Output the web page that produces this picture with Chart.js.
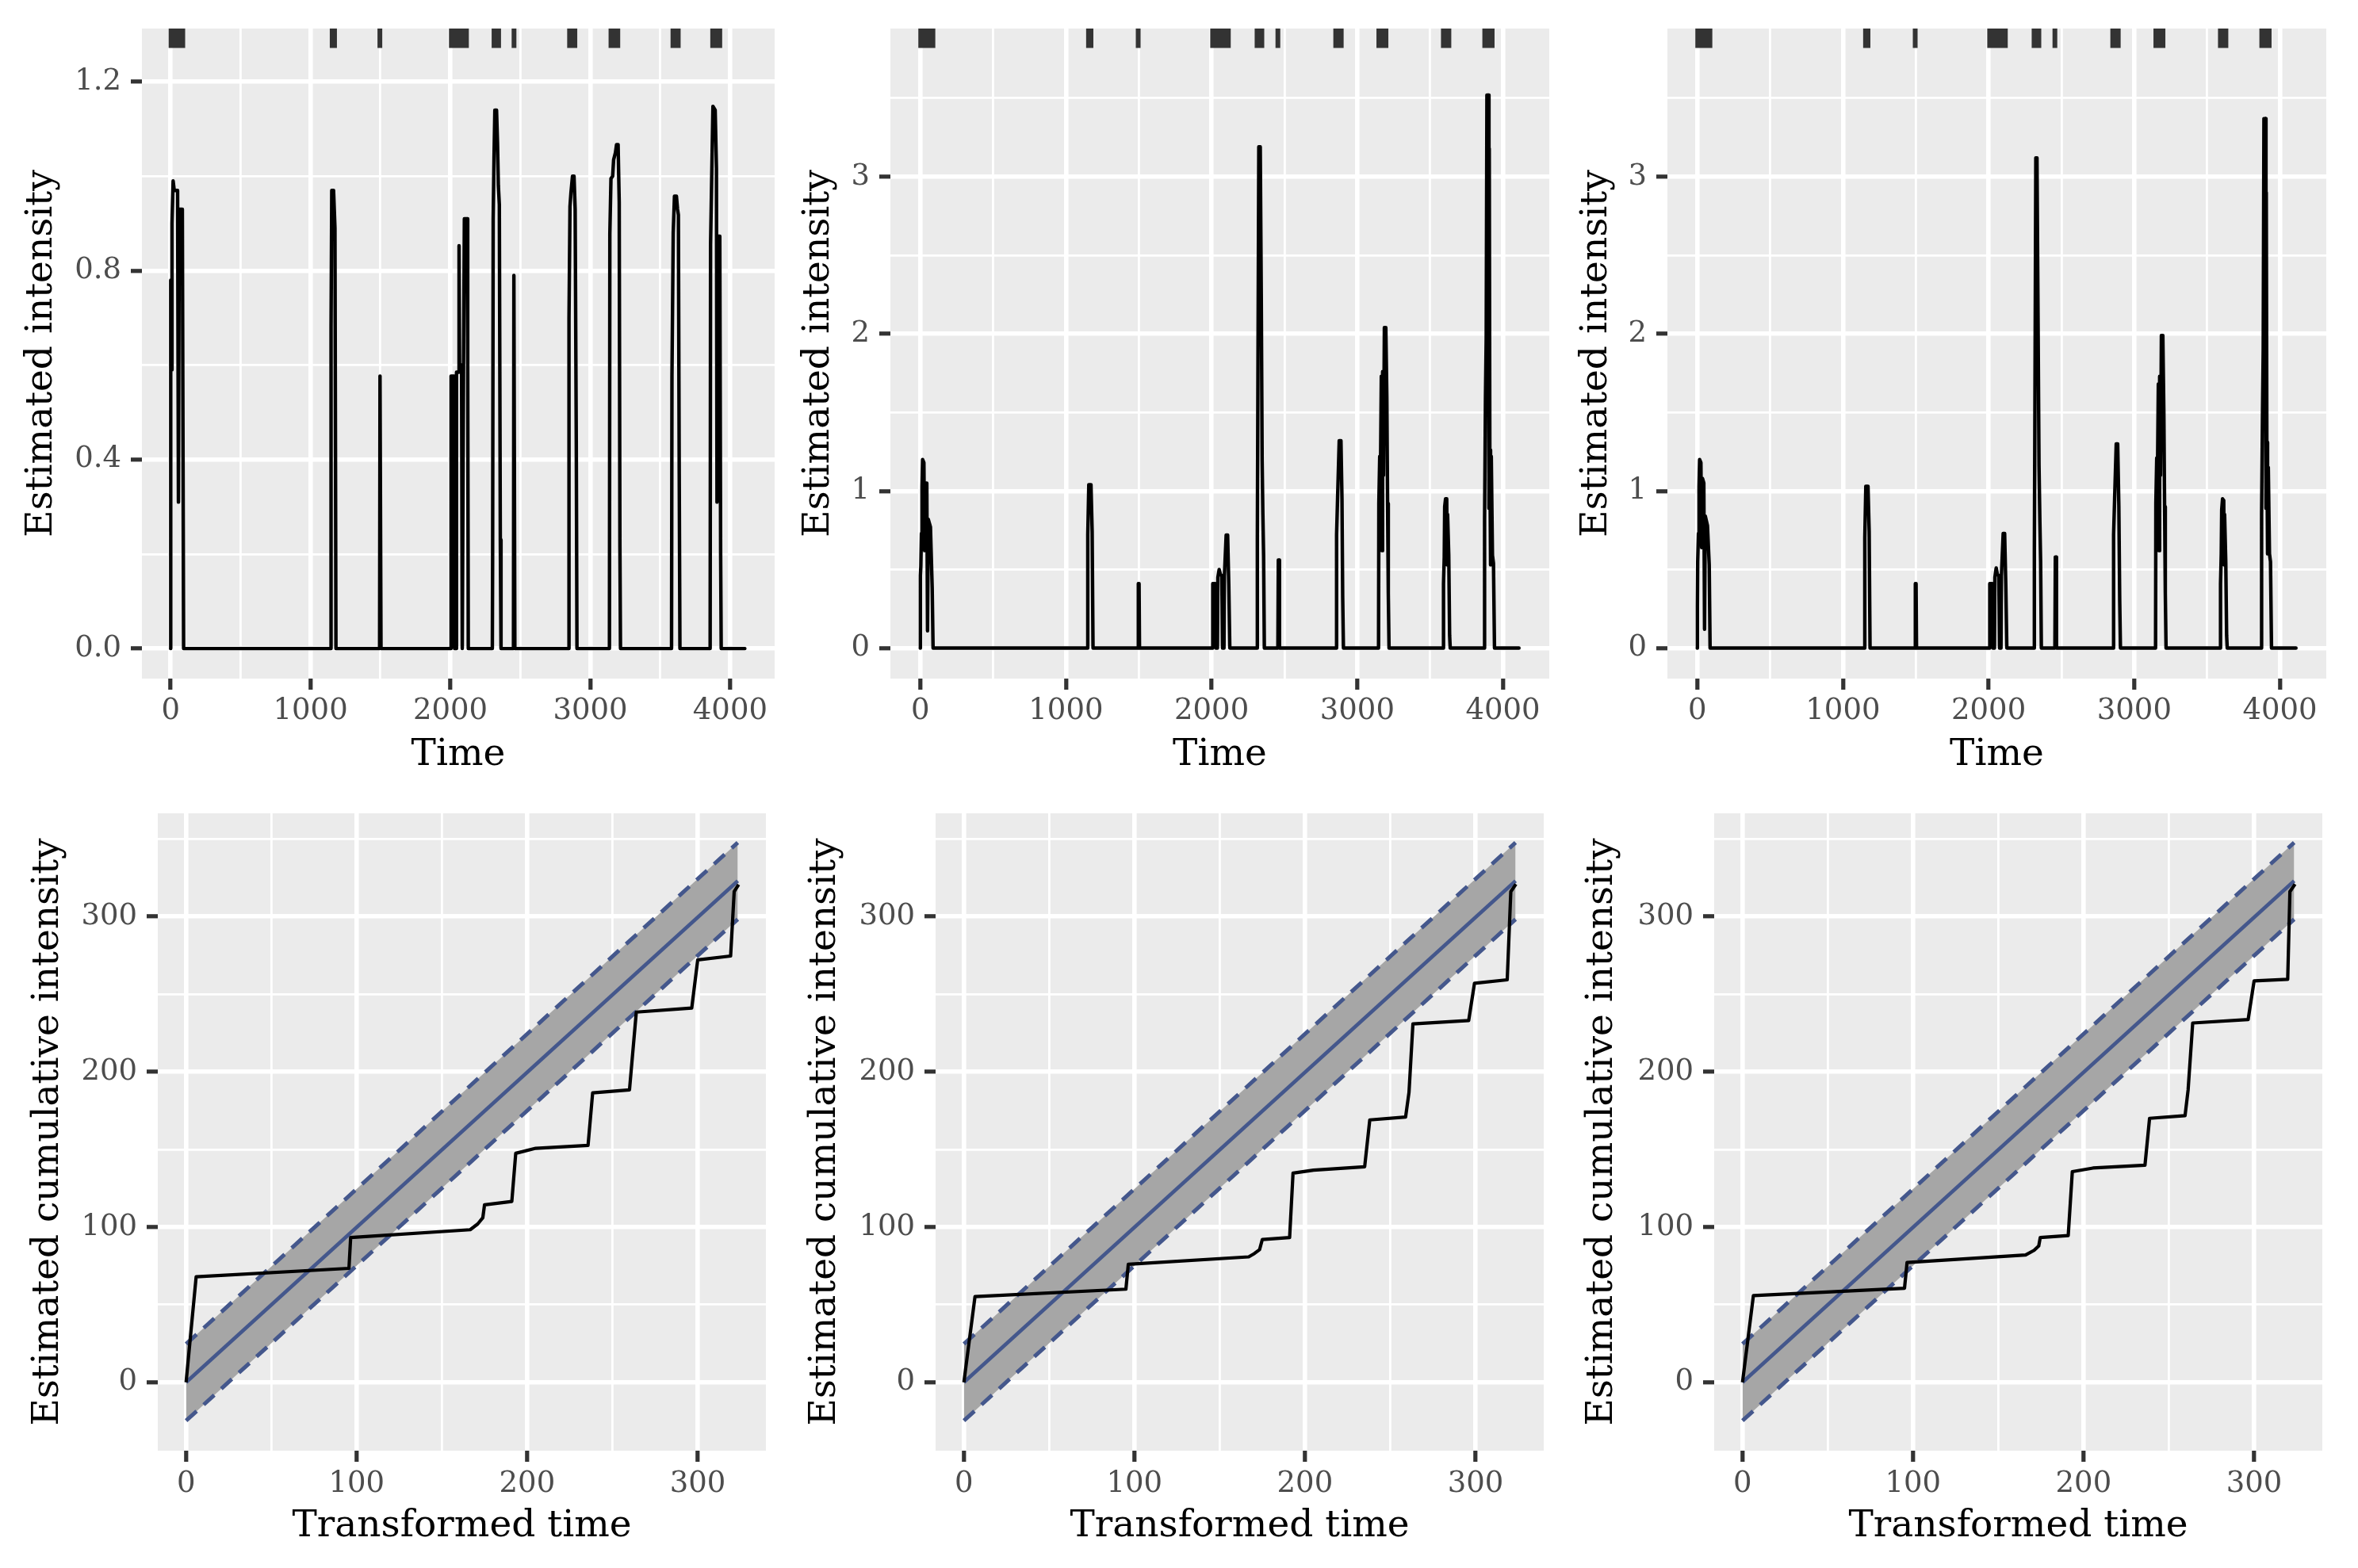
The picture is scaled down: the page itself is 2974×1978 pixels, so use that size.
<!DOCTYPE html>
<html>
<head>
<meta charset="utf-8">
<script src="https://cdn.jsdelivr.net/npm/chart.js@4.4.1/dist/chart.umd.min.js"></script>
<style>
html, body { margin: 0; padding: 0; background: #ffffff; }
#page { position: relative; width: 2974px; height: 1978px; overflow: hidden; background: #ffffff; }
#page canvas { position: absolute; }
</style>
</head>
<body>
<div id="page"></div>
<script>
// ---------------- DATA ----------------
// Event times (rug marks at the top of the intensity panels)
const rugTimes = [3, 12, 22, 32, 42, 52, 62, 72, 80, 87,
  1155, 1163, 1172, 1496,
  2007, 2020, 2035, 2050, 2062, 2075, 2090, 2103, 2115,
  2312, 2322, 2334, 2345, 2455,
  2852, 2865, 2878, 2890,
  3148, 3160, 3172, 3185, 3197,
  3591, 3603, 3616, 3629,
  3875, 3888, 3900, 3913, 3926];

// Estimated intensity, [time, value]
const intensityPanel1 = [[0,0],[1,0.78],[6,0.59],[10,0.90],[18,0.99],[26,0.97],[50,0.97],[56,0.31],[62,0.93],[84,0.93],[89,0.40],[93,0],
  [1145,0],[1147,0.68],[1152,0.97],[1165,0.97],[1175,0.89],[1182,0],
  [1494,0],[1497,0.577],[1501,0.577],[1504,0],
  [2003,0],[2005,0.577],[2026,0.577],[2030,0],[2040,0],[2044,0.585],[2058,0.585],[2062,0.853],[2066,0.59],[2080,0.60],[2085,0],[2090,0],[2094,0.60],[2100,0.91],[2120,0.91],[2124,0.60],[2128,0],
  [2300,0],[2302,0.19],[2306,0.91],[2312,1.04],[2318,1.14],[2330,1.14],[2337,1.07],[2343,0.98],[2350,0.94],[2357,0.23],[2362,0],
  [2451,0],[2454,0.79],[2458,0.79],[2461,0],
  [2846,0],[2848,0.70],[2855,0.936],[2862,0.965],[2873,1.00],[2884,1.00],[2892,0.93],[2900,0.44],[2905,0],
  [3137,0],[3140,0.877],[3148,0.995],[3160,1.00],[3167,1.035],[3180,1.05],[3188,1.067],[3199,1.067],[3207,0.945],[3212,0.215],[3216,0],
  [3581,0],[3584,0.576],[3593,0.88],[3602,0.958],[3616,0.958],[3624,0.93],[3630,0.918],[3636,0.37],[3641,0],
  [3857,0],[3860,0.855],[3868,0.995],[3877,1.148],[3893,1.14],[3902,1.017],[3906,0.31],[3911,0.873],[3926,0.873],[3932,0.20],[3936,0],
  [4105,0]];

const intensityPanel2 = [[0,0],[1,0.46],[4,0.52],[8,0.73],[12,1.03],[16,1.20],[25,1.18],[30,0.62],[36,1.05],[45,1.05],[50,0.11],[55,0.82],[70,0.77],[82,0.38],[88,0],
  [1147,0],[1150,0.72],[1157,1.04],[1172,1.04],[1180,0.74],[1186,0],
  [1494,0],[1497,0.41],[1502,0.41],[1505,0],
  [2005,0],[2008,0.41],[2025,0.41],[2030,0],[2040,0],[2043,0.45],[2052,0.50],[2060,0.47],[2070,0.46],[2075,0],[2085,0],[2088,0.46],[2100,0.72],[2110,0.72],[2118,0.40],[2125,0],
  [2312,0],[2314,0.70],[2318,1.73],[2324,3.19],[2334,3.19],[2341,2.24],[2347,1.19],[2352,0.85],[2357,0.59],[2362,0],
  [2455,0],[2458,0.56],[2463,0.56],[2466,0],
  [2856,0],[2858,0.72],[2865,0.96],[2876,1.32],[2888,1.32],[2895,0.95],[2900,0.32],[2905,0],
  [3146,0],[3148,0.92],[3154,1.22],[3160,1.20],[3165,1.73],[3170,0.62],[3174,1.76],[3180,1.10],[3186,2.04],[3196,2.04],[3203,1.60],[3208,0.92],[3213,0.35],[3218,0],
  [3590,0],[3592,0.41],[3597,0.58],[3600,0.90],[3606,0.95],[3614,0.95],[3617,0.53],[3620,0.85],[3628,0.59],[3634,0.08],[3638,0],
  [3872,0],[3874,0.82],[3880,1.60],[3885,1.97],[3890,3.52],[3900,3.52],[3904,0.89],[3906,3.18],[3910,1.26],[3915,0.53],[3920,1.22],[3928,0.59],[3935,0.54],[3942,0],
  [4110,0]];

const intensityPanel3 = [[0,0],[1,0.26],[3,0.55],[8,0.73],[12,1.03],[16,1.20],[25,1.18],[30,0.64],[36,1.08],[45,1.05],[50,0.12],[55,0.84],[70,0.78],[82,0.53],[88,0],
  [1147,0],[1150,0.70],[1157,1.03],[1172,1.03],[1180,0.74],[1186,0],
  [1494,0],[1497,0.41],[1502,0.41],[1505,0],
  [2005,0],[2008,0.41],[2025,0.41],[2030,0],[2040,0],[2043,0.45],[2052,0.51],[2060,0.47],[2070,0.46],[2075,0],[2085,0],[2088,0.46],[2100,0.73],[2110,0.73],[2118,0.40],[2125,0],
  [2312,0],[2314,0.62],[2318,1.58],[2324,3.12],[2332,3.12],[2340,2.00],[2346,1.16],[2352,0.80],[2357,0.55],[2362,0],
  [2455,0],[2458,0.58],[2463,0.58],[2466,0],
  [2856,0],[2858,0.72],[2865,0.95],[2876,1.30],[2886,1.30],[2894,0.90],[2900,0.30],[2905,0],
  [3146,0],[3148,0.92],[3154,1.21],[3160,1.20],[3165,1.68],[3170,0.62],[3174,1.73],[3180,1.10],[3186,1.99],[3196,1.99],[3203,1.50],[3208,0.90],[3213,0.35],[3218,0],
  [3590,0],[3592,0.41],[3597,0.60],[3600,0.88],[3606,0.95],[3614,0.94],[3617,0.53],[3620,0.85],[3628,0.55],[3634,0.08],[3638,0],
  [3872,0],[3874,0.85],[3880,1.48],[3885,1.90],[3890,3.37],[3900,3.37],[3904,0.89],[3906,2.90],[3910,1.31],[3915,0.60],[3920,1.15],[3928,0.60],[3935,0.55],[3942,0],
  [4110,0]];

// Estimated cumulative intensity vs transformed time, [x, y]
const cumulativePanel4 = [[0,0],[5.9,68],[95.5,73.4],[96.5,93.2],[166.6,98.3],[171,102],[174,106],[175,114.3],[191,116.5],[193.3,147.5],[205,150.7],[235.7,152.6],[238.4,186.4],[260,188.3],[264,238.4],[296.5,241],[300,272],[319.3,274.5],[321.4,316],[324,320.5]];
const cumulativePanel5 = [[0,0],[6.5,55.2],[95,60],[96.4,76],[167,80.8],[170.4,83],[173.4,85.5],[175,92],[191,93.2],[193,134.7],[205,136.6],[235,138.8],[238,169],[259,170.8],[261,186.7],[263.3,230.8],[296,233],[299.4,257],[318.6,259.2],[320.7,316],[323.7,320.8]];
const cumulativePanel6 = [[0,0],[6.4,55.9],[95,60.6],[96.5,77.2],[166,82],[171,85],[173.7,87.8],[174.6,93.2],[191,94.5],[193.4,135.7],[205.5,138],[236,139.8],[238.7,170],[259.5,171.7],[261.3,188.3],[264,231.4],[296.5,233.6],[300,258.5],[319.7,259.5],[321,316],[324,320.8]];

// Reference line and confidence band
const bandX = [0, 323.5];
const bandMid = [0, 322.9];
const bandLow = [-24.7, 298.2];
const bandHigh = [24.7, 347.6];

// Ticks
const timeMajor = [0, 1000, 2000, 3000, 4000];
const timeMinor = [500, 1500, 2500, 3500];
const timeLabels = ['0', '1000', '2000', '3000', '4000'];
const int1Major = [0, 0.4, 0.8, 1.2];
const int1Minor = [0.2, 0.6, 1.0];
const int1Labels = ['0.0', '0.4', '0.8', '1.2'];
const int23Major = [0, 1, 2, 3];
const int23Minor = [0.5, 1.5, 2.5, 3.5];
const int23Labels = ['0', '1', '2', '3'];
const transMajor = [0, 100, 200, 300];
const transMinor = [50, 150, 250];
const transLabels = ['0', '100', '200', '300'];
const cumMajor = [0, 100, 200, 300];
const cumMinor = [50, 150, 250, 350];
const cumLabels = ['0', '100', '200', '300'];

// ---------------- STYLE / LAYOUT ----------------
const FONT = "'DejaVu Serif', serif";
const BLUE = '#44578C';
const COLS = [[0, 991], [991, 1983], [1983, 2974]];
const ROWS = [[0, 989], [989, 1978]];

const panelBackground = {
  id: 'panelBackground',
  beforeDraw(chart) {
    const a = chart.chartArea, ctx = chart.ctx;
    ctx.save();
    ctx.fillStyle = '#EBEBEB';
    ctx.fillRect(a.left, a.top, a.right - a.left, a.bottom - a.top);
    ctx.restore();
  }
};

const pts = arr => arr.map(p => ({ x: p[0], y: p[1] }));
const zipPts = (xs, ys) => xs.map((x, i) => ({ x: x, y: ys[i] }));

function rugPoints(ymin, ymax) {
  const y0 = ymax - 0.03 * (ymax - ymin);
  const out = [];
  rugTimes.forEach(t => { out.push({ x: t, y: ymax }, { x: t, y: y0 }, { x: t, y: null }); });
  return out;
}

function axisOptions(o) {
  const majorSet = new Set(o.major);
  const labelMap = new Map(o.major.map((v, i) => [v, o.labels[i]]));
  const all = o.major.concat(o.minor).sort((a, b) => a - b);
  const isX = o.pos === 'bottom';
  const isMajor = c => c.tick && majorSet.has(c.tick.value);
  return {
    type: 'linear', position: o.pos, min: o.min, max: o.max, bounds: 'data',
    afterBuildTicks: s => { s.ticks = all.map(v => ({ value: v })); },
    afterFit: s => { if (isX) s.height = o.size; else s.width = o.size; },
    grid: {
      color: '#FFFFFF',
      lineWidth: c => isMajor(c) ? 5.6 : 2.8,
      drawTicks: true,
      tickLength: 14,
      tickWidth: 5.2,
      tickColor: c => isMajor(c) ? '#333333' : 'rgba(0,0,0,0)'
    },
    border: { display: false },
    ticks: {
      autoSkip: false, maxRotation: 0, minRotation: 0,
      padding: o.tickPad,
      color: '#4D4D4D',
      font: { family: FONT, size: 37, lineHeight: 1.2 },
      callback: v => labelMap.has(v) ? labelMap.get(v) : ''
    },
    title: {
      display: true, text: o.title, color: '#000000',
      font: { family: FONT, size: 47, lineHeight: 1.2 },
      padding: isX ? { top: 0, bottom: o.titlePad } : { top: o.titlePad, bottom: 0 }
    }
  };
}

function makePanel(p) {
  const [cx0, cx1] = COLS[p.col];
  const [cy0, cy1] = ROWS[p.row];
  const w = cx1 - cx0, h = cy1 - cy0;
  const canvas = document.createElement('canvas');
  canvas.width = w; canvas.height = h;
  canvas.style.left = cx0 + 'px'; canvas.style.top = cy0 + 'px';
  canvas.style.width = w + 'px'; canvas.style.height = h + 'px';
  document.getElementById('page').appendChild(canvas);
  const x = Object.assign({}, p.x, { pos: 'bottom', size: cy1 - p.B });
  const y = Object.assign({ tickPad: 12 }, p.y, { pos: 'left', size: p.L - cx0 });
  new Chart(canvas, {
    type: 'line',
    data: { datasets: p.datasets },
    options: {
      responsive: false, animation: false,
      layout: { padding: { left: 0, top: p.T - cy0, right: cx1 - p.R, bottom: 0 } },
      plugins: {
        legend: { display: false }, tooltip: { enabled: false },
        filler: { propagate: false, drawTime: 'beforeDatasetsDraw' }
      },
      elements: { point: { radius: 0 }, line: { tension: 0 } },
      scales: { x: axisOptions(x), y: axisOptions(y) }
    },
    plugins: [panelBackground]
  });
}

// ---------------- TOP ROW ----------------
const TX_MIN = -205, TX_MAX = 4318;
const topPanels = [
  { col: 0, L: 179, R: 977, data: intensityPanel1, ymin: -0.0636, ymax: 1.3127, major: int1Major, minor: int1Minor, labels: int1Labels, yPad: 24.8 },
  { col: 1, L: 1123, R: 1954, data: intensityPanel2, ymin: -0.194, ymax: 3.943, major: int23Major, minor: int23Minor, labels: int23Labels, yPad: 13.8 },
  { col: 2, L: 2103, R: 2934, data: intensityPanel3, ymin: -0.194, ymax: 3.943, major: int23Major, minor: int23Minor, labels: int23Labels, yPad: 2.3 }
];
topPanels.forEach(tp => {
  makePanel({
    col: tp.col, row: 0, L: tp.L, R: tp.R, T: 36, B: 856,
    x: { min: TX_MIN, max: TX_MAX, major: timeMajor, minor: timeMinor, labels: timeLabels, title: 'Time', titlePad: 7.8, tickPad: 5 },
    y: { min: tp.ymin, max: tp.ymax, major: tp.major, minor: tp.minor, labels: tp.labels, title: 'Estimated intensity', titlePad: tp.yPad },
    datasets: [
      { data: pts(tp.data), borderColor: '#000000', borderWidth: 4.4, pointRadius: 0, tension: 0,
        borderJoinStyle: 'round', borderCapStyle: 'round', fill: false, order: 1 },
      { data: rugPoints(tp.ymin, tp.ymax), borderColor: '#333333', borderWidth: 6, pointRadius: 0,
        borderCapStyle: 'butt', spanGaps: false, fill: false, order: 2 }
    ]
  });
});

// ---------------- BOTTOM ROW ----------------
const bottomPanels = [
  { col: 0, L: 199, R: 966, data: cumulativePanel4, yPad: 32.5 },
  { col: 1, L: 1180, R: 1947, data: cumulativePanel5, yPad: 21.6 },
  { col: 2, L: 2162, R: 2929, data: cumulativePanel6, yPad: 9.8 }
];
bottomPanels.forEach(bp => {
  makePanel({
    col: bp.col, row: 1, L: bp.L, R: bp.R, T: 1026, B: 1830,
    x: { min: -16.6, max: 340, major: transMajor, minor: transMinor, labels: transLabels, title: 'Transformed time', titlePad: 23.8, tickPad: 6 },
    y: { min: -44.0, max: 366.4, major: cumMajor, minor: cumMinor, labels: cumLabels, title: 'Estimated cumulative intensity', titlePad: bp.yPad },
    datasets: [
      { data: zipPts(bandX, bandLow), borderColor: BLUE, borderWidth: 5, borderDash: [18, 12], pointRadius: 0, fill: false, order: 3 },
      { data: zipPts(bandX, bandHigh), borderColor: BLUE, borderWidth: 5, borderDash: [18, 12], pointRadius: 0,
        fill: '-1', backgroundColor: '#A6A6A6', order: 2 },
      { data: zipPts(bandX, bandMid), borderColor: BLUE, borderWidth: 4.6, pointRadius: 0, fill: false, order: 1 },
      { data: pts(bp.data), borderColor: '#000000', borderWidth: 4.2, pointRadius: 0, borderJoinStyle: 'round', fill: false, order: 0 }
    ]
  });
});
</script>
</body>
</html>
